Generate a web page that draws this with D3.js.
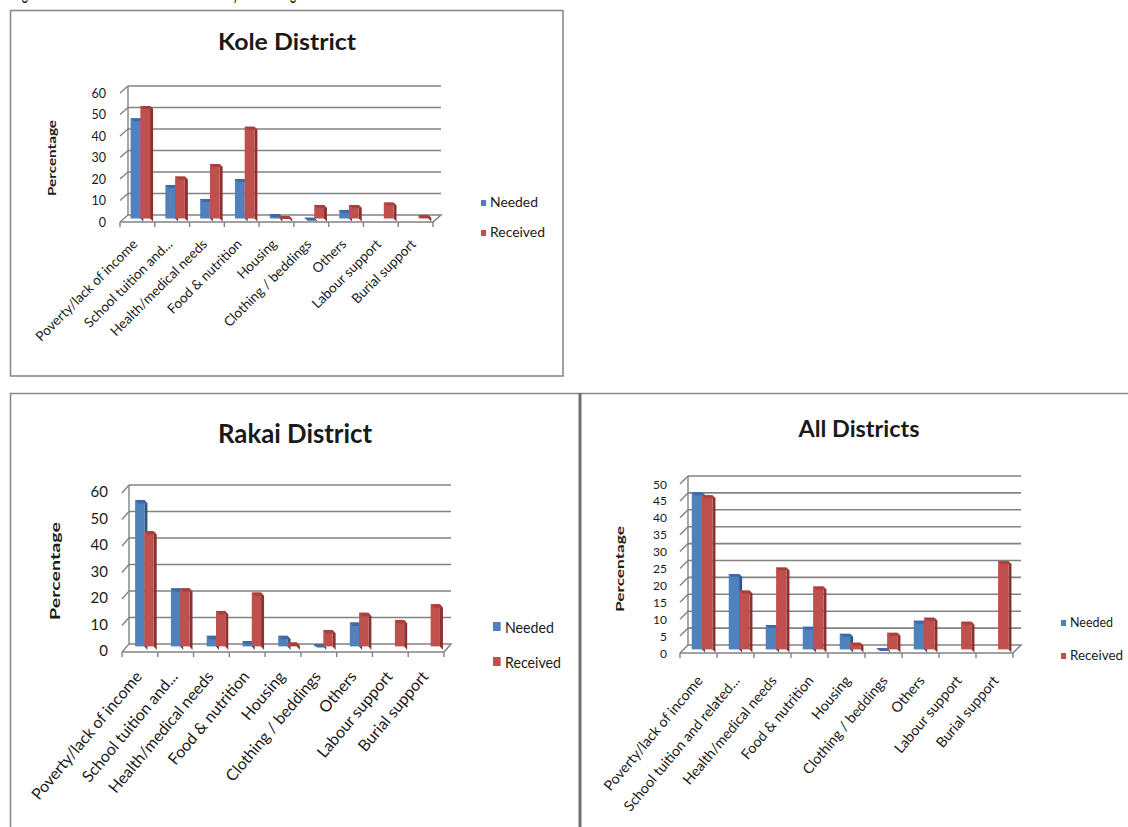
<!DOCTYPE html>
<html>
<head>
<meta charset="utf-8">
<script src="https://cdn.jsdelivr.net/npm/d3@7"></script>
<style>
  body { margin: 0; background: #fff; }
  svg { display: block; }
  text { font-family: Lato, "Open Sans", sans-serif; fill: #1a1a1a; }
</style>
</head>
<body>
<svg id="fig" width="1128" height="827"></svg>
<script>
// ---- data ----
const koleCategories = ["Poverty/lack of income", "School tuition and...", "Health/medical needs",
  "Food & nutrition", "Housing", "Clothing / beddings", "Others", "Labour support", "Burial support"];
const rakaiCategories = ["Poverty/lack of income", "School tuition and...", "Health/medical needs",
  "Food & nutrition", "Housing", "Clothing / beddings", "Others", "Labour support", "Burial support"];
const allCategories = ["Poverty/lack of income", "School tuition and related...", "Health/medical needs",
  "Food & nutrition", "Housing", "Clothing / beddings", "Others", "Labour support", "Burial support"];

const koleNeeded   = [46.6, 15.6, 9.1, 18.4, 2.1, 0.4, 4.0, 0, 0];
const koleReceived = [52.3, 19.5, 25.3, 42.7, 1.2, 6.3, 6.3, 7.4, 1.6];
const rakaiNeeded   = [55.2, 21.9, 4.0, 2.0, 4.0, 0.9, 9.0, 0, 0];
const rakaiReceived = [43.5, 21.9, 13.4, 20.3, 1.5, 6.2, 12.7, 10.0, 15.9];
const allNeeded   = [46.5, 22.3, 7.2, 6.7, 4.6, 0.4, 8.5, 0, 0];
const allReceived = [45.6, 17.4, 24.2, 18.6, 2.0, 4.9, 9.4, 8.2, 26.1];

const koleTicks  = [0, 10, 20, 30, 40, 50, 60];
const rakaiTicks = [0, 10, 20, 30, 40, 50, 60];
const allTicks   = [0, 5, 10, 15, 20, 25, 30, 35, 40, 45, 50];

const seriesNames = ["Needed", "Received"];
const axisTitle = "Percentage";

// face colours: front, top, side
const palette = {
  Needed:   { front: "#4F81BD", top: "#3E6BA4", side: "#2E5788" },
  Received: { front: "#C0504D", top: "#A8413E", side: "#8A3330" }
};

const svg = d3.select("#fig");
svg.append("rect").attr("width", 1128).attr("height", 827).attr("fill", "#fff");

// caption line running above the first frame (only its lower edge is on the page)
svg.append("text").attr("x", 12).attr("y", -1.5).attr("font-size", 21)
  .attr("textLength", 315).attr("lengthAdjust", "spacingAndGlyphs")
  .text("Figure 6: Needs and assistance received by area and gender");

// ---- frames ----
const frame = svg.append("g").attr("fill", "none").attr("stroke", "#8a8a8a").attr("stroke-width", 1.6);
frame.append("rect").attr("x", 10.5).attr("y", 10.5).attr("width", 552.5).attr("height", 365.5);
frame.append("path").attr("d", "M10.5,828 V393.5 H1128");
frame.append("line").attr("x1", 580).attr("x2", 580).attr("y1", 393).attr("y2", 827)
  .attr("stroke", "#707070").attr("stroke-width", 3);

// ---- one 3-D clustered column panel ----
function drawPanel(cfg) {
  const g = svg.append("g");
  const n = cfg.categories.length;
  const x = d3.scaleBand().domain(cfg.categories).range([cfg.x0, cfg.x1]);
  const y = d3.scaleLinear().domain([0, cfg.max]).range([cfg.base, cfg.top]);
  const [dx, dy] = cfg.depth;           // vector from the front plane to the back wall
  const front0 = y(0) - dy;
  const gridStroke = "#828282";

  // back wall gridlines
  g.append("g").selectAll("line").data(cfg.ticks.filter(t => t > 0)).join("line")
    .attr("x1", cfg.x0 + dx).attr("x2", cfg.x1 + dx)
    .attr("y1", d => y(d)).attr("y2", d => y(d))
    .attr("stroke", gridStroke).attr("stroke-width", 1.6);

  // side wall: back edge and level lines
  g.append("line").attr("x1", cfg.x0 + dx).attr("x2", cfg.x0 + dx)
    .attr("y1", y(0)).attr("y2", y(cfg.max)).attr("stroke", gridStroke).attr("stroke-width", 1.4);
  g.append("g").selectAll("line").data(cfg.ticks).join("line")
    .attr("x1", cfg.x0).attr("y1", d => y(d) - dy)
    .attr("x2", cfg.x0 + dx).attr("y2", d => y(d))
    .attr("stroke", gridStroke).attr("stroke-width", 1.4);

  // floor outline
  g.append("path")
    .attr("d", `M${cfg.x0 + dx},${y(0)} H${cfg.x1 + dx} L${cfg.x1},${front0} H${cfg.x0}`)
    .attr("fill", "none").attr("stroke", gridStroke).attr("stroke-width", 1.5);

  // category tick marks on the front edge
  const step = x.step();
  g.append("g").selectAll("line").data(d3.range(n + 1)).join("line")
    .attr("x1", i => cfg.x0 + i * step).attr("x2", i => cfg.x0 + i * step)
    .attr("y1", front0).attr("y2", front0 + 5)
    .attr("stroke", gridStroke).attr("stroke-width", 1.4);

  // value labels
  g.append("g").selectAll("text").data(cfg.ticks).join("text")
    .attr("x", cfg.labelRight).attr("y", d => y(d) - dy + cfg.labelShift)
    .attr("text-anchor", "end").attr("dominant-baseline", "central")
    .attr("font-size", cfg.tickFont).attr("fill", "#333")
    .text(d => d);

  // columns
  const bw = step * cfg.barFrac;
  const [tdx, tdy] = cfg.barDepth;
  const baseY = y(0) - dy * (1 - cfg.barPos);
  const shiftX = dx * cfg.barPos;
  const series = [cfg.needed, cfg.received];
  series.forEach((vals, s) => {
    const col = palette[seriesNames[s]];
    const bars = g.append("g");
    cfg.categories.forEach((c, i) => {
      const v = vals[i];
      if (!(v > 0)) return;
      const xl = x(c) + step * cfg.padFrac + s * bw + shiftX;
      const xr = xl + bw;
      const yt = baseY - (y(0) - y(v));
      bars.append("polygon")
        .attr("points", [[xr, yt], [xr + tdx, yt - tdy], [xr + tdx, baseY - tdy], [xr, baseY]].join(" "))
        .attr("fill", col.side);
      bars.append("rect").attr("x", xl).attr("y", yt).attr("width", bw).attr("height", baseY - yt)
        .attr("fill", col.front);
      bars.append("polygon")
        .attr("points", [[xl, yt], [xl + tdx, yt - tdy], [xr + tdx, yt - tdy], [xr, yt]].join(" "))
        .attr("fill", col.top);
    });
  });

  // category labels
  g.append("g").selectAll("text").data(cfg.categories).join("text")
    .attr("transform", c => `translate(${x(c) + step / 2 + cfg.catOffset[0]},${front0 + cfg.catOffset[1]}) rotate(${cfg.catAngle})`)
    .attr("text-anchor", "end").attr("font-size", cfg.catFont)
    .text(c => c);

  // title
  g.append("text").attr("x", cfg.title.x).attr("y", cfg.title.y).attr("text-anchor", "middle")
    .attr("font-size", cfg.title.size).attr("font-weight", 700)
    .attr("textLength", cfg.title.len).attr("lengthAdjust", "spacingAndGlyphs")
    .text(cfg.title.text);

  // vertical axis title
  g.append("text")
    .attr("transform", `translate(${cfg.yTitle.x},${cfg.yTitle.y}) rotate(-90)`)
    .attr("text-anchor", "middle").attr("font-size", cfg.yTitle.size).attr("font-weight", 700)
    .attr("textLength", cfg.yTitle.len).attr("lengthAdjust", "spacingAndGlyphs")
    .text(axisTitle);

  // legend
  const lg = g.append("g");
  seriesNames.forEach((name, s) => {
    const ly = cfg.legend.y + s * cfg.legend.gap;
    lg.append("rect").attr("x", cfg.legend.x).attr("y", ly - cfg.legend.box + 1)
      .attr("width", cfg.legend.box * 0.85).attr("height", cfg.legend.box)
      .attr("fill", palette[name].front);
    lg.append("text").attr("x", cfg.legend.x + cfg.legend.box + 3).attr("y", ly + cfg.legend.box * 0.35)
      .attr("font-size", cfg.legend.size)
      .attr("textLength", cfg.legend.lens[s]).attr("lengthAdjust", "spacingAndGlyphs")
      .text(name);
  });
}

drawPanel({
  categories: koleCategories, needed: koleNeeded, received: koleReceived, ticks: koleTicks, max: 60,
  x0: 120, x1: 433, base: 215, top: 86, depth: [8, -7],
  barPos: 0.5, padFrac: 0.19, barFrac: 0.28, barDepth: [3, -3],
  labelRight: 106, labelShift: 0, tickFont: 12.5,
  catFont: 13.6, catOffset: [1, 23], catAngle: -45,
  title: { text: "Kole District", x: 287, y: 50, size: 23, len: 138 },
  yTitle: { text: axisTitle, x: 56, y: 158, size: 11.5, len: 76 },
  legend: { x: 481, y: 205, gap: 30, box: 6, size: 12.5, lens: [48, 55] }
});

drawPanel({
  categories: rakaiCategories, needed: rakaiNeeded, received: rakaiReceived, ticks: rakaiTicks, max: 60,
  x0: 122, x1: 444, base: 644, top: 485, depth: [7, -8],
  barPos: 0.7, padFrac: 0.23, barFrac: 0.26, barDepth: [3, -3.5],
  labelRight: 108, labelShift: -2, tickFont: 15,
  catFont: 16, catOffset: [3, 25], catAngle: -50,
  title: { text: "Rakai District", x: 295, y: 443, size: 27, len: 154 },
  yTitle: { text: axisTitle, x: 60, y: 571, size: 14, len: 98 },
  legend: { x: 493, y: 630, gap: 35, box: 9, size: 16, lens: [49, 56] }
});

drawPanel({
  categories: allCategories, needed: allNeeded, received: allReceived, ticks: allTicks, max: 50,
  x0: 680, x1: 1013, base: 645, top: 476, depth: [8, -8],
  barPos: 0.45, padFrac: 0.22, barFrac: 0.28, barDepth: [3, -3],
  labelRight: 667, labelShift: 0, tickFont: 12,
  catFont: 14.3, catOffset: [5, 28], catAngle: -50,
  title: { text: "All Districts", x: 859, y: 437, size: 23, len: 121 },
  yTitle: { text: axisTitle, x: 624, y: 569, size: 12, len: 86 },
  legend: { x: 1061, y: 625, gap: 33, box: 6, size: 13, lens: [43, 53] }
});
</script>
</body>
</html>
